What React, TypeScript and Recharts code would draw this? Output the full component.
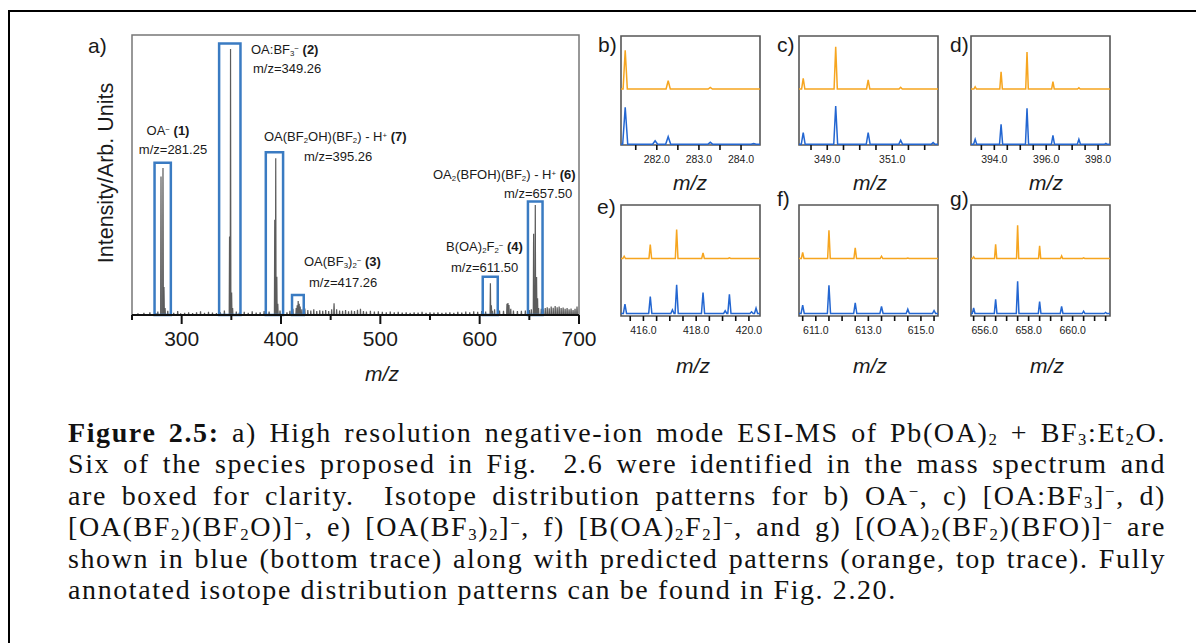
import React from "react";
import { Area, AreaChart, Line, LineChart, ReferenceArea, XAxis, YAxis } from "recharts";

type Peak = [number, number];

// a) full ESI-MS spectrum, intensity in % of the plot height
const spectrumPeaks: Peak[] = [
  [279.2, 49.5], [281.2, 52.5], [282.2, 10], [283.3, 2.5],
  [348.2, 28], [349.2, 95], [350.3, 8], [351.3, 2.5],
  [393.7, 34], [394.7, 56], [395.8, 13.7], [396.8, 4],
  [415.3, 2.5], [416.3, 3.5], [417.3, 5], [418.3, 4], [419.3, 3],
  [610.8, 11.3], [611.8, 3.5], [612.8, 1.5],
  [654.3, 29], [656.0, 39.3], [657.3, 13.6], [658.3, 6], [659.3, 2.5]
];

const spectrumNoise: Peak[] = [
  [256, 0.6], [262, 0.8], [268, 1.0], [274, 0.7], [276, 1.2], [286, 1.5], [289, 1.0], [292, 0.8],
  [296, 1.4], [299, 0.6], [303, 0.8], [307, 1.0], [311, 0.7], [315, 1.0], [319, 1.3], [323, 0.8],
  [327, 1.1], [331, 0.9], [335, 0.7], [339, 1.0], [343, 1.6], [355, 1.2], [358, 0.9], [363, 1.1],
  [367, 0.8], [371, 1.3], [375, 0.9], [379, 1.0], [383, 1.4], [388, 1.2], [399, 1.6], [402, 1.2],
  [406, 1.0], [409, 1.5], [412, 2.2], [421, 2.0], [424, 2.3], [427, 1.8], [430, 1.6], [433, 2.0],
  [436, 1.4], [439, 1.7], [442, 1.5], [445, 1.8], [448, 1.4], [451, 2.0], [453.4, 4.2], [456, 2.0],
  [459, 1.6], [462, 1.5], [465, 1.8], [468, 1.3], [471, 1.6], [474, 1.4], [477, 1.9], [480, 2.2],
  [483, 1.4], [486, 1.2], [490, 1.5], [494, 1.2], [498, 1.3], [502, 1.1], [506, 1.0], [510, 1.2],
  [514, 1.0], [518, 1.1], [522, 0.9], [526, 1.0], [530, 0.8], [534, 1.0], [538, 0.9], [542, 1.1],
  [546, 0.8], [550, 1.0], [554, 0.9], [558, 1.0], [562, 0.8], [566, 0.9], [570, 1.0], [574, 0.8],
  [578, 1.1], [582, 0.9], [586, 1.2], [590, 1.0], [594, 1.3], [598, 1.1], [602, 1.4], [606, 1.2],
  [615, 2.0], [620, 1.6], [624, 1.5], [627.5, 4.0], [628.5, 4.3], [629.5, 3.6], [631.3, 2.2], [634, 1.6],
  [638, 1.4], [642, 1.5], [646, 1.6], [650, 1.8], [652, 2.0], [662, 2.2], [664, 2.0], [666, 2.5],
  [668, 2.8], [670, 2.4], [672, 3.0], [674, 2.6], [676, 3.2], [678, 2.8], [680, 3.0], [682, 2.5],
  [684, 2.7], [686, 2.2], [688, 2.5], [690, 2.0], [692, 2.3], [694, 1.8], [696, 2.2], [698, 3.0]
];

const spectrumTicks = [250, 300, 350, 400, 450, 500, 550, 600, 650, 700];
const spectrumLabels = [300, 400, 500, 600, 700];

// boxed species (m/z range and box top)
const boxLowMz = [272.7, 337.7, 384.7, 411.1, 603.1, 648.6];
const boxHighMz = [289.1, 359.2, 402.1, 422.9, 618.2, 663.3];
const boxTop = [54.4, 97, 58.1, 7.1, 13.7, 40.5];

// b)-g) isotope patterns, heights above each trace's own baseline
const bOrange: Peak[] = [[281.25, 38.6], [282.27, 8.3], [283.27, 1.6]];
const bBlue: Peak[] = [[281.25, 37], [281.96, 3.6], [282.27, 7.6], [283.27, 2], [284.3, 0.7]];
const bTicks = [281.5, 282, 282.5, 283, 283.5, 284];
const bLabels = [282, 283, 284];

const cOrange: Peak[] = [[348.26, 10.7], [349.26, 42.3], [350.26, 9], [351.26, 1.7]];
const cBlue: Peak[] = [[348.26, 11.7], [349.26, 38.3], [350.26, 11.7], [351.26, 4], [352.26, 1.7]];
const cTicks = [348.5, 349, 349.5, 350, 350.5, 351, 351.5, 352];
const cLabels = [349, 351];

const dOrange: Peak[] = [[393.26, 2.3], [394.26, 17.3], [395.26, 37], [396.26, 7.3], [397.26, 1.3]];
const dBlue: Peak[] = [[393.26, 5], [394.26, 20], [395.26, 36], [396.26, 9], [397.26, 5], [398.3, 1]];
const dTicks = [393.5, 394, 394.5, 395, 395.5, 396, 396.5, 397, 397.5, 398];
const dLabels = [394, 396, 398];

const eOrange: Peak[] = [[415.27, 2.3], [416.26, 14], [417.26, 29], [418.26, 5.7], [419.26, 0.7]];
const eBlue: Peak[] = [
  [415.3, 9.3], [416.26, 17], [417.1, 3.7], [417.26, 28.7], [418.26, 21],
  [419.1, 2.7], [419.26, 19.3], [420.1, 1.7], [420.27, 5.3]
];
const eTicks = [415.5, 416, 416.5, 417, 417.5, 418, 418.5, 419, 419.5, 420];
const eLabels = [416, 418, 420];

const fOrange: Peak[] = [[610.5, 6], [611.5, 28.3], [612.5, 10.7], [613.5, 2.3], [614.5, 0.5]];
const fBlue: Peak[] = [[610.5, 8.3], [611.5, 28.3], [612.5, 10.7], [613.5, 7], [614.5, 4.3], [615.5, 3]];
const fTicks = [610.5, 611, 611.5, 612, 612.5, 613, 613.5, 614, 614.5, 615, 615.5];
const fLabels = [611, 613, 615];

const gOrange: Peak[] = [[655.5, 1.6], [656.5, 14.3], [657.5, 33.3], [658.5, 12.6], [659.5, 2.6], [660.5, 0.6]];
const gBlue: Peak[] = [[655.5, 5.6], [656.5, 14.3], [657.5, 32.3], [658.5, 12], [659.5, 7], [660.5, 2.3], [661.5, 1]];
const gTicks = [655.5, 656, 656.5, 657, 657.5, 658, 658.5, 659, 659.5, 660, 660.5, 661, 661.5];
const gLabels = [656, 658, 660];

const ORANGE = "#f6a51f";
const BLUE = "#2366d1";
const BOX = "#3a7bc2";
const SANS = "'Liberation Sans', Arial, sans-serif";

// sticks -> drawable trace (baseline, apex, baseline)
const toTrace = (peaks: Peak[], domain: [number, number], base: number, halfWidth: number) => {
  const sorted = [...peaks].sort((a, b) => a[0] - b[0]);
  const points = [{ mz: domain[0], v: base }];
  sorted.forEach(([mz, h]) => {
    points.push({ mz: mz - halfWidth, v: base }, { mz, v: base + h }, { mz: mz + halfWidth, v: base });
  });
  points.push({ mz: domain[1], v: base });
  return points;
};

const Sub = ({ children }: { children: React.ReactNode }) => (
  <span style={{ fontSize: "0.6em", lineHeight: 1, position: "relative", top: "0.2em" }}>{children}</span>
);
const Sup = ({ children }: { children: React.ReactNode }) => (
  <span style={{ fontSize: "0.6em", lineHeight: 1, position: "relative", top: "-0.45em" }}>{children}</span>
);

// page coords -> root coords (body margin 8)
const Note = ({ x, y, center, size = 13, italic, children }: any) => (
  <div
    style={{
      position: "absolute",
      left: x - 8,
      top: y - 8,
      transform: center ? "translate(-50%, -50%)" : "translateY(-50%)",
      fontFamily: SANS,
      fontSize: size,
      fontStyle: italic ? "italic" : "normal",
      lineHeight: 1,
      whiteSpace: "nowrap",
      color: "#1a1a1a"
    }}
  >
    {children}
  </div>
);

const MainTick = ({ x, y, payload }: any) => {
  const major = spectrumLabels.includes(payload.value);
  return (
    <g>
      <line x1={x} x2={x} y1={y} y2={y + (major ? 9 : 5)} stroke="#111" strokeWidth={2} />
      {major && (
        <text x={x} y={y + 31} textAnchor="middle" fontSize={21} fontFamily={SANS} fill="#1a1a1a">
          {payload.value}
        </text>
      )}
    </g>
  );
};

const SmallTick = ({ x, y, payload, labels }: any) => (
  <g>
    <line x1={x} x2={x} y1={y} y2={y + 5} stroke="#111" strokeWidth={1.6} />
    {labels.includes(payload.value) && (
      <text x={x} y={y + 18} textAnchor="middle" fontSize={10.5} fontFamily={SANS} fill="#222">
        {payload.value.toFixed(1)}
      </text>
    )}
  </g>
);

interface PanelProps {
  left: number;
  top: number;
  plotHeight: number;
  domain: [number, number];
  ticks: number[];
  labels: number[];
  orange: Peak[];
  blue: Peak[];
  orangeBase: number;
  blueBase: number;
}

function IsotopePanel({ left, top, plotHeight, domain, ticks, labels, orange, blue, orangeBase, blueBase }: PanelProps) {
  const orangeTrace = toTrace(orange, domain, orangeBase, 0.05);
  const blueTrace = toTrace(blue, domain, blueBase, 0.06);
  return (
    <div style={{ position: "absolute", left: left - 8 - 10, top: top - 8 - 5 }}>
      <LineChart height={plotHeight + 35} margin={{ bottom: 10, left: 10, right: 11, top: 5 }} width={160}>
        <XAxis
          allowDataOverflow
          axisLine={false}
          dataKey="mz"
          domain={domain}
          height={20}
          interval={0}
          tick={(p: any) => <SmallTick {...p} labels={labels} />}
          tickLine={false}
          tickMargin={0}
          tickSize={0}
          ticks={ticks}
          type="number"
        />
        <YAxis allowDataOverflow domain={[0, plotHeight]} hide type="number" width={0} />
        <ReferenceArea fill="none" stroke="#555" strokeWidth={1.6} x1={domain[0]} x2={domain[1]} y1={0} y2={plotHeight} />
        <Line activeDot={false} data={orangeTrace} dataKey="v" dot={false} isAnimationActive={false} stroke={ORANGE} strokeWidth={1.5} type="linear" />
        <Line activeDot={false} data={blueTrace} dataKey="v" dot={false} isAnimationActive={false} stroke={BLUE} strokeWidth={1.5} type="linear" />
      </LineChart>
    </div>
  );
}

const captionLine: React.CSSProperties = {
  height: 31.4,
  lineHeight: "31.4px",
  textAlign: "justify",
  textAlignLast: "justify",
  whiteSpace: "nowrap"
};

export default function App() {
  const spectrumTrace = toTrace([...spectrumPeaks, ...spectrumNoise], [250, 700], 0, 0.35);
  const topRow = { top: 36, plotHeight: 109, orangeBase: 56, blueBase: 0.7 };
  const bottomRow = { top: 205, plotHeight: 111, orangeBase: 57.5, blueBase: 2.5 };

  return (
    <div style={{ position: "relative", width: 1196, height: 635 }}>
      <style>{"body{overflow:hidden}"}</style>
      <div style={{ position: "absolute", left: 0, top: 2, width: 1250, height: 700, borderTop: "2px solid #000", borderLeft: "2px solid #000" }} />

      {/* a) survey spectrum */}
      <div style={{ position: "absolute", left: 0, top: 0 }}>
        <AreaChart data={spectrumTrace} height={400} margin={{ bottom: 63, left: 124, right: 29, top: 27 }} width={600}>
          <XAxis
            allowDataOverflow
            axisLine={{ stroke: "#111", strokeWidth: 2 }}
            dataKey="mz"
            domain={[250, 700]}
            height={30}
            interval={0}
            tick={(p: any) => <MainTick {...p} />}
            tickLine={false}
            tickMargin={0}
            tickSize={0}
            ticks={spectrumTicks}
            type="number"
          />
          <YAxis allowDataOverflow domain={[0, 100]} hide type="number" width={0} />
          <ReferenceArea fill="none" stroke="#777" strokeWidth={1.5} x1={250} x2={700} y1={0} y2={100} />
          <Area
            activeDot={false}
            dataKey="v"
            dot={false}
            fill="#5c5c5c"
            fillOpacity={1}
            isAnimationActive={false}
            stroke="#5c5c5c"
            strokeWidth={1.2}
            type="linear"
          />
          {boxLowMz.map((low, i) => (
            <ReferenceArea fill="none" key={low} stroke={BOX} strokeWidth={2.5} x1={low} x2={boxHighMz[i]} y1={0} y2={boxTop[i]} />
          ))}
        </AreaChart>
      </div>

      <Note size={21} x={88} y={45}>a)</Note>
      <div
        style={{
          position: "absolute",
          left: 107 - 8,
          top: 173 - 8,
          transform: "translate(-50%, -50%) rotate(-90deg)",
          fontFamily: SANS,
          fontSize: 21.5,
          lineHeight: 1,
          whiteSpace: "nowrap",
          color: "#1a1a1a"
        }}
      >
        Intensity/Arb. Units
      </div>
      <Note center italic size={21} x={382} y={373}>m/z</Note>

      <Note center x={168} y={130}>OA<Sup>−</Sup> <b>(1)</b></Note>
      <Note center x={173} y={149}>m/z=281.25</Note>
      <Note x={251} y={49}>OA:BF<Sub>3</Sub><Sup>−</Sup> <b>(2)</b></Note>
      <Note x={253} y={68}>m/z=349.26</Note>
      <Note x={264} y={136}>OA(BF<Sub>2</Sub>OH)(BF<Sub>2</Sub>) - H<Sup>+</Sup> <b>(7)</b></Note>
      <Note x={304} y={156}>m/z=395.26</Note>
      <Note x={304} y={261}>OA(BF<Sub>3</Sub>)<Sub>2</Sub><Sup>−</Sup> <b>(3)</b></Note>
      <Note x={309} y={282}>m/z=417.26</Note>
      <Note x={446} y={246}>B(OA)<Sub>2</Sub>F<Sub>2</Sub><Sup>−</Sup> <b>(4)</b></Note>
      <Note x={451} y={267}>m/z=611.50</Note>
      <Note x={433} y={174}>OA<Sub>2</Sub>(BFOH)(BF<Sub>2</Sub>) - H<Sup>+</Sup> <b>(6)</b></Note>
      <Note x={504} y={193}>m/z=657.50</Note>

      {/* b)-g) isotope distributions */}
      <IsotopePanel {...topRow} blue={bBlue} domain={[281.15, 284.45]} labels={bLabels} left={621} orange={bOrange} ticks={bTicks} />
      <IsotopePanel {...topRow} blue={cBlue} domain={[348.13, 352.41]} labels={cLabels} left={799} orange={cOrange} ticks={cTicks} />
      <IsotopePanel {...topRow} blue={dBlue} domain={[393.1, 398.46]} labels={dLabels} left={971} orange={dOrange} ticks={dTicks} />
      <IsotopePanel {...bottomRow} blue={eBlue} domain={[415.15, 420.42]} labels={eLabels} left={621} orange={eOrange} ticks={eTicks} />
      <IsotopePanel {...bottomRow} blue={fBlue} domain={[610.36, 615.65]} labels={fLabels} left={799} orange={fOrange} ticks={fTicks} />
      <IsotopePanel {...bottomRow} blue={gBlue} domain={[655.38, 661.7]} labels={gLabels} left={971} orange={gOrange} ticks={gTicks} />

      <Note size={21} x={598} y={44}>b)</Note>
      <Note size={21} x={777} y={44}>c)</Note>
      <Note size={21} x={950} y={44}>d)</Note>
      <Note size={21} x={597} y={206}>e)</Note>
      <Note size={21} x={777} y={198}>f)</Note>
      <Note size={21} x={950} y={198}>g)</Note>
      <Note center italic size={21} x={690} y={182}>m/z</Note>
      <Note center italic size={21} x={870} y={182}>m/z</Note>
      <Note center italic size={21} x={1046} y={182}>m/z</Note>
      <Note center italic size={21} x={693} y={365}>m/z</Note>
      <Note center italic size={21} x={870} y={365}>m/z</Note>
      <Note center italic size={21} x={1047} y={365}>m/z</Note>

      {/* caption */}
      <div
        style={{
          position: "absolute",
          left: 68 - 8,
          top: 417 - 8,
          width: 1098,
          fontFamily: "'Liberation Serif', 'Times New Roman', serif",
          fontSize: 28,
          letterSpacing: 1.6,
          color: "#111"
        }}
      >
        <div style={captionLine}>
          <b>Figure 2.5:</b> a) High resolution negative-ion mode ESI-MS of Pb(OA)<Sub>2</Sub> + BF<Sub>3</Sub>:Et<Sub>2</Sub>O.
        </div>
        <div style={captionLine}>Six of the species proposed in Fig.&nbsp; 2.6 were identified in the mass spectrum and</div>
        <div style={captionLine}>
          are boxed for clarity.&nbsp; Isotope distribution patterns for b) OA<Sup>−</Sup>, c) [OA:BF<Sub>3</Sub>]<Sup>−</Sup>, d)
        </div>
        <div style={captionLine}>
          [OA(BF<Sub>2</Sub>)(BF<Sub>2</Sub>O)]<Sup>−</Sup>, e) [OA(BF<Sub>3</Sub>)<Sub>2</Sub>]<Sup>−</Sup>, f) [B(OA)<Sub>2</Sub>F<Sub>2</Sub>]<Sup>−</Sup>, and g) [(OA)<Sub>2</Sub>(BF<Sub>2</Sub>)(BFO)]<Sup>−</Sup> are
        </div>
        <div style={captionLine}>shown in blue (bottom trace) along with predicted patterns (orange, top trace). Fully</div>
        <div style={{ ...captionLine, textAlign: "left", textAlignLast: "left" }}>
          annotated isotope distribution patterns can be found in Fig. 2.20.
        </div>
      </div>
    </div>
  );
}
